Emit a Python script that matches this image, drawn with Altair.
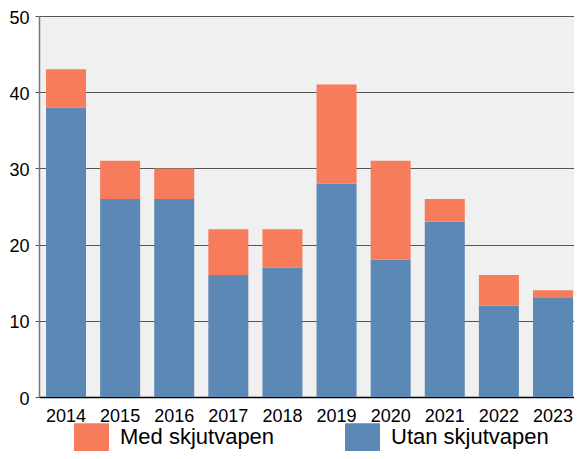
import altair as alt
import pandas as pd

years = ["2014", "2015", "2016", "2017", "2018", "2019", "2020", "2021", "2022", "2023"]
utan = [38, 26, 26, 16, 17, 28, 18, 23, 12, 13]
med = [5, 5, 4, 6, 5, 13, 13, 3, 4, 1]
series = ["Med skjutvapen", "Utan skjutvapen"]
colors = ["#f67c5b", "#5b88b5"]

rows = []
for i, y in enumerate(years):
    rows.append({"year": y, "series": "Utan skjutvapen", "value": utan[i], "ord": 0})
    rows.append({"year": y, "series": "Med skjutvapen", "value": med[i], "ord": 1})
df = pd.DataFrame(rows)

FONT = "Liberation Sans"
RECT = "M-1,-0.8L1,-0.8L1,0.8L-1,0.8Z"

chart = alt.Chart(df).mark_bar().encode(
    x=alt.X("year:N", sort=years, title=None,
            scale=alt.Scale(paddingInner=0.2608, paddingOuter=0.074, align=0.875),
            axis=alt.Axis(labelAngle=0, labelFontSize=18, labelColor="#000", labelFont=FONT,
                          ticks=False, domainColor="#000", domainWidth=1.5, labelPadding=10)),
    y=alt.Y("value:Q", stack="zero", title=None,
            scale=alt.Scale(domain=[0, 50], nice=False),
            axis=alt.Axis(values=[0, 10, 20, 30, 40, 50], labelFontSize=18, labelColor="#000",
                          labelFont=FONT, gridColor="#555", gridWidth=1, tickColor="#555",
                          tickSize=4, labelPadding=6, labelOffset=2,
                          domainColor="#777", domainWidth=1.5)),
    color=alt.Color("series:N",
                    scale=alt.Scale(domain=series, range=colors),
                    legend=alt.Legend(title=None, orient="none", direction="horizontal",
                                      legendX=35, legendY=403.5, symbolType=RECT,
                                      symbolSize=1225, symbolStrokeWidth=0, symbolOpacity=1,
                                      labelFontSize=22, labelFont=FONT, labelColor="#000",
                                      labelOffset=11, columnPadding=70, padding=0)),
    order=alt.Order("ord:Q"),
).properties(
    width=535, height=381,
    padding={"left": 31, "top": 8, "right": 0, "bottom": 54},
    autosize="none",
).configure_view(
    fill="#f0f0f0", stroke=None
)

chart.save("out.html", embed_options={"renderer": "svg", "actions": False})
